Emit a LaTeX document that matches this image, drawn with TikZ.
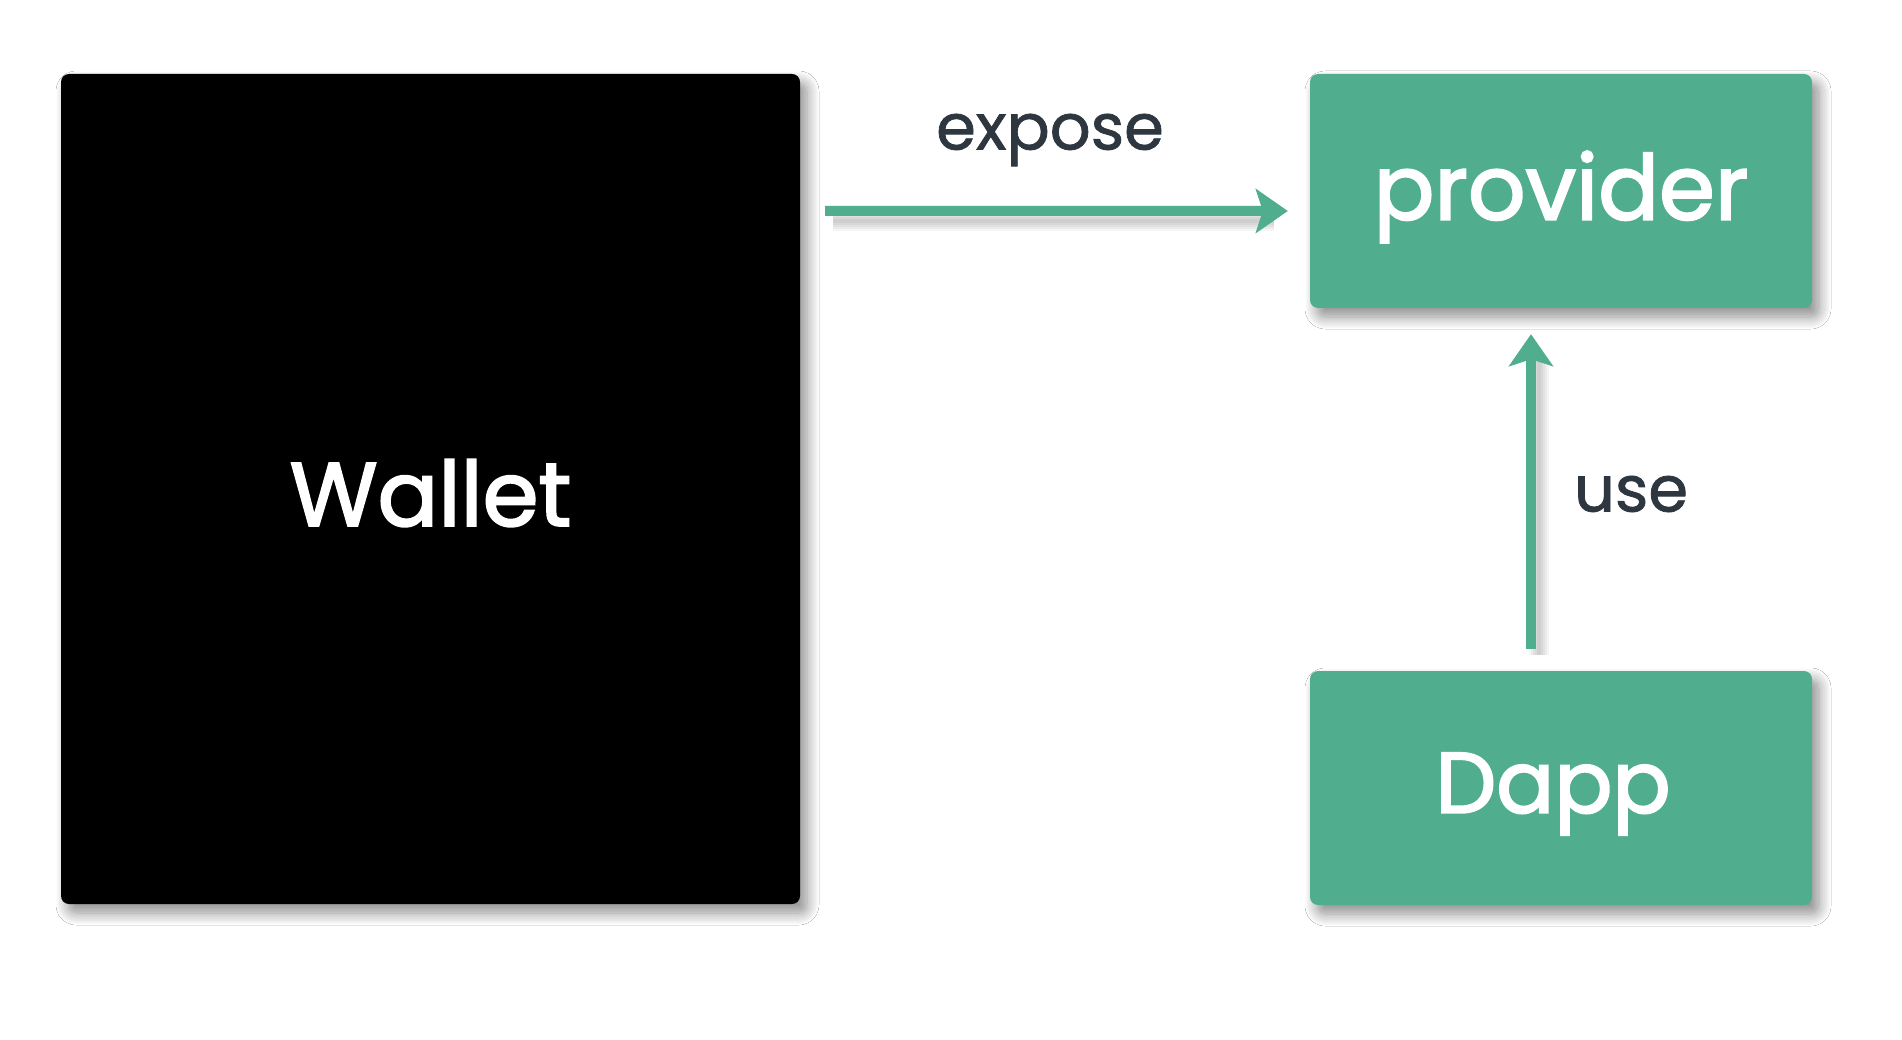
\documentclass[tikz,border=0pt]{standalone}
\usepackage{fontspec}
\setmainfont{Poppins}
\newfontfamily\medfont[FakeBold=1.2]{Poppins}
\newfontfamily\semifont[FakeBold=2.2]{Poppins}
\usetikzlibrary{shadows.blur,arrows.meta,calc}
\definecolor{grn}{HTML}{50AE8F}
\definecolor{txt}{HTML}{2E3640}
\tikzset{
  box/.style={rectangle, rounded corners=8pt, inner sep=0pt,
    blur shadow={shadow xshift=7pt, shadow yshift=-9pt, shadow blur radius=12pt, shadow opacity=45, shadow blur steps=12}},
  conn/.style={draw=grn, line width=10pt, -{Stealth[length=32pt,width=44pt,inset=7pt]}},
  connshadow/.style={draw=black, opacity=0.04},
  lbl/.style={text=txt, font=\medfont\fontsize{64}{68}\selectfont, inner sep=0pt},
  big/.style={text=white, font=\semifont\fontsize{90}{94}\selectfont}
}
\begin{document}
\begin{tikzpicture}[x=1pt,y=-1pt]
\useasboundingbox[fill=white] (0,0) rectangle (1902,1040);
\node[box, fill=black, minimum width=739pt, minimum height=830pt] (wallet) at (430.5,489) {};
\node[big] (wt) at ($(wallet.center)+(0,4)$) {Wallet};
\node[box, fill=grn, minimum width=502pt, minimum height=234pt] (provider) at (1561,191) {};
\node[big] (pt) at ($(provider.center)+(0,6)$) {provider};
\node[box, fill=grn, minimum width=502pt, minimum height=234pt] (dapp) at (1561,788) {};
\node[big, font=\semifont\fontsize{86}{90}\selectfont] (dt) at ($(dapp.center)+(-8,6)$) {Dapp};
\coordinate (e1) at ($(wallet.north east)+(25,137)$);
\coordinate (e2) at ($(provider.west)+(-22,20)$);
\coordinate (u1) at ($(dapp.north)+(-30,-22)$);
\coordinate (u2) at ($(provider.south)+(-30,26)$);
\foreach \k in {4,8,12,16,20}{
  \draw[connshadow, line width=\k pt] ($(e1)+(8,10)$) -- ($(e2)+(-14,10)$);
  \draw[connshadow, line width=\k pt] ($(u1)+(8,6)$) -- ($(u2)+(8,24)$);
}
\draw[conn] (e1) -- (e2);
\draw[conn] (u1) -- (u2);
\node[lbl] (expose) at (1050,140) {expose};
\node[lbl] (use) at (1631,494) {use};
\end{tikzpicture}
\end{document}
